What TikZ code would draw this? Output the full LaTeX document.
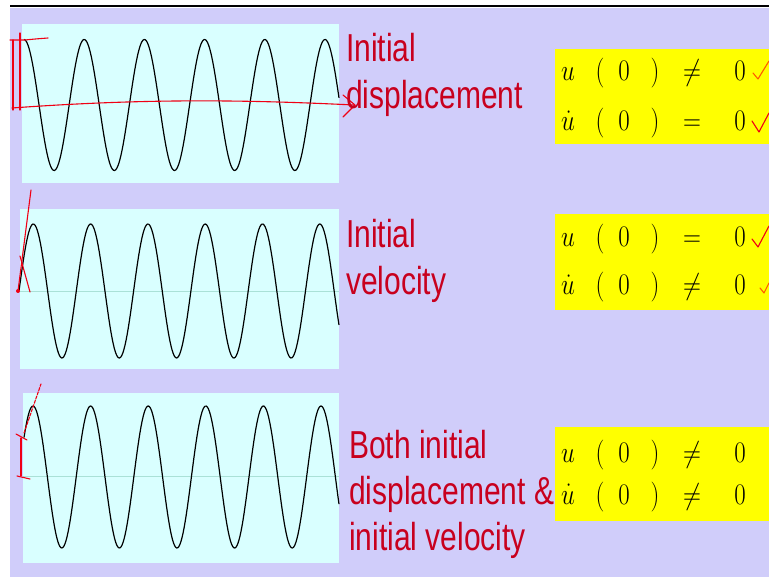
\documentclass[tikz,border=0pt]{standalone}
\usepackage{amsmath}
\usepackage{graphicx}
\usepackage{fontspec}
\newfontfamily\lblfont{Liberation Sans}
\usetikzlibrary{arrows.meta}
\definecolor{slidebg}{RGB}{208,205,250}
\definecolor{panelbg}{RGB}{217,255,255}
\definecolor{boxbg}{RGB}{255,255,0}
\definecolor{lblred}{RGB}{200,0,30}
\definecolor{markred}{RGB}{240,0,20}
\definecolor{markorg}{RGB}{255,90,0}
\definecolor{axisln}{RGB}{170,225,215}
\newcommand{\vstretch}[1]{\scalebox{1}[1.3]{#1}}
\newcommand{\mstretch}[1]{\scalebox{1}[1.2]{$#1$}}

\begin{document}
\begin{tikzpicture}[x=1pt,y=-1pt,>=Stealth,
  lbl/.style={inner sep=0pt,anchor=base west,text=lblred,
    font=\lblfont\fontsize{30}{35.4}\selectfont},
  sym/.style={inner sep=0pt,anchor=base,font=\fontsize{26}{30}\selectfont},
  pen/.style={markred,line width=1.1pt,line cap=round,line join=round},
  wave/.style={black,line width=1.2pt}]
  \useasboundingbox (0,0) rectangle (769,577);
  \fill[white] (0,0) rectangle (769,577);
  \fill[slidebg] (10,8) rectangle (769,577);
  \draw[line width=2pt] (10,6.5) -- (769,6.5);
  % three panels, yellow boxes on the right
  \foreach \l/\t/\b in {22/24/183, 20/209/369, 23/393/563}
    \fill[panelbg] (\l,\t) rectangle (339,\b);
  \foreach \t/\b in {49/144, 214/310, 427/521}
    \fill[boxbg] (555,\t) rectangle (769,\b);
  \draw[axisln] (20,291) -- (339,291);
  \draw[axisln] (23,476) -- (339,476);
  % waves
  \draw[wave] plot[domain=24:339,samples=300] (\x,{105-65.5*cos(360/60.2*(\x-24))});
  \draw[wave] plot[domain=19:339,samples=300] (\x,{291-67*sin(360/57.3*(\x-19))});
  \draw[wave] plot[domain=24:339,samples=300] (\x,{477-71*cos(360/57.6*(\x-33))});
  % hand marks: displacement
  \draw[pen] (12,108) .. controls (150,98) and (250,100) .. (354,105);
  \draw[pen] (343,95) -- (355,105) -- (343,117);
  \draw[pen] (13,40) -- (13,110);
  \draw[pen] (20,33) -- (20,110);
  \draw[pen] (10,40) -- (25,40) .. controls (35,39) .. (48,38);
  % hand marks: velocity
  \draw[pen] (31,190) -- (18,291);
  \draw[pen] (20,256) -- (30,292);
  \fill[markred] (18,291) circle (2);
  % hand marks: both
  \draw[pen,dash pattern=on 3pt off 1.5pt] (24,433) -- (41,384);
  \draw[pen] (21,438) -- (21,476);
  \draw[pen] (16,434) -- (27,440);
  \draw[pen] (17,476) -- (30,479);
  % labels
  \node[lbl] (txtdisp) at (346,62)
    {\vstretch{\begin{tabular}[t]{@{}l@{}}Initial\\displacement\end{tabular}}};
  \node[lbl] (txtvel) at (346,248)
    {\vstretch{\begin{tabular}[t]{@{}l@{}}Initial\\velocity\end{tabular}}};
  \node[lbl] (txtboth) at (349,458)
    {\vstretch{\begin{tabular}[t]{@{}l@{}}Both initial\\displacement \&\\initial velocity\end{tabular}}};
  % initial conditions
  \foreach \n/\y/\uu/\rel in {a/81/u/\neq, b/131/\dot{u}/=, c/247/u/=,
                             d/295/\dot{u}/\neq, e/462/u/\neq, f/504/\dot{u}/\neq} {
    \node[sym] (u\n) at (568,\y) {\mstretch{\uu}};
    \node[sym] (lp\n) at (600,\y) {\mstretch{(}};
    \node[sym] (zl\n) at (624,\y) {\mstretch{0}};
    \node[sym] (rp\n) at (655,\y) {\mstretch{)}};
    \node[sym] (rel\n) at (692,\y) {\mstretch{\rel}};
    \node[sym] (zr\n) at (740,\y) {\mstretch{0}};
  }
  % ticks
  \draw[pen,markorg] (753,73) -- (758,79) -- (769,61);
  \draw[pen] (752,121) -- (759,132) -- (769,113);
  \draw[pen] (752,239) -- (758,247) -- (769,226);
  \draw[pen,markorg] (760,288) -- (764,293) -- (769,283);
\end{tikzpicture}
\end{document}
